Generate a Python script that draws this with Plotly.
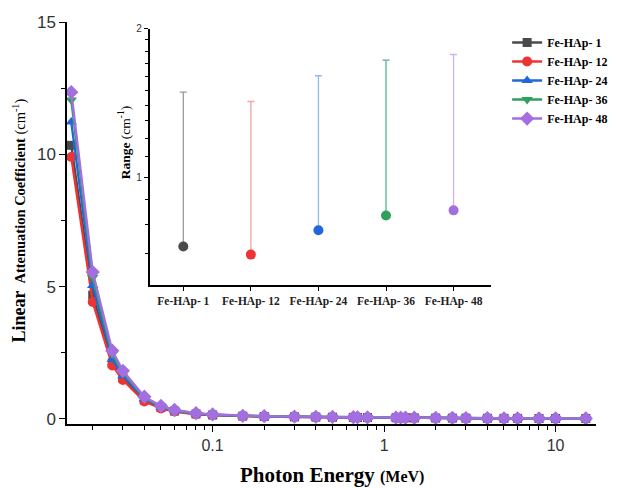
import plotly.graph_objects as go
import numpy as np

energy = [0.015, 0.02, 0.026, 0.03, 0.04, 0.05, 0.06, 0.08, 0.1, 0.15, 0.2, 0.3, 0.4, 0.5,
          0.662, 0.7, 0.8, 1.173, 1.25, 1.332, 1.5, 2, 2.5, 3, 4, 5, 6, 8, 10, 15]

mu_1 = [10.34, 4.68, 2.12, 1.55, 0.72, 0.43, 0.30, 0.19, 0.152, 0.108, 0.094, 0.081, 0.072, 0.066,
        0.059, 0.057, 0.054, 0.047, 0.045, 0.044, 0.041, 0.036, 0.032, 0.030, 0.026, 0.023, 0.021, 0.019, 0.018, 0.017]
mu_12 = [9.90, 4.42, 2.02, 1.47, 0.66, 0.40, 0.28, 0.18, 0.145, 0.103, 0.090, 0.077, 0.069, 0.063,
         0.056, 0.055, 0.052, 0.045, 0.043, 0.042, 0.039, 0.034, 0.031, 0.029, 0.025, 0.022, 0.020, 0.018, 0.017, 0.016]
mu_24 = [11.22, 5.04, 2.25, 1.63, 0.76, 0.45, 0.31, 0.20, 0.158, 0.112, 0.098, 0.084, 0.075, 0.069,
         0.061, 0.059, 0.056, 0.049, 0.047, 0.046, 0.043, 0.037, 0.034, 0.031, 0.027, 0.024, 0.022, 0.020, 0.019, 0.018]
mu_36 = [12.05, 5.35, 2.45, 1.74, 0.80, 0.47, 0.33, 0.21, 0.165, 0.117, 0.102, 0.088, 0.078, 0.072,
         0.064, 0.062, 0.058, 0.051, 0.049, 0.048, 0.045, 0.039, 0.035, 0.032, 0.028, 0.025, 0.023, 0.021, 0.020, 0.019]
mu_48 = [12.35, 5.55, 2.58, 1.82, 0.84, 0.49, 0.34, 0.22, 0.170, 0.120, 0.105, 0.090, 0.080, 0.074,
         0.066, 0.064, 0.060, 0.052, 0.050, 0.049, 0.046, 0.040, 0.036, 0.033, 0.029, 0.026, 0.024, 0.022, 0.021, 0.020]

samples = ["Fe-HAp- 1", "Fe-HAp- 12", "Fe-HAp- 24", "Fe-HAp- 36", "Fe-HAp- 48"]
range_low = [0.723, 0.696, 0.780, 0.836, 0.856]
range_high = [1.488, 1.424, 1.606, 1.728, 1.774]

colors = ["#4a4a4a", "#ee3333", "#2266dd", "#2f9f5e", "#a36ee0"]
bar_colors = ["#9a9a9a", "#f2a3a3", "#8fbdf0", "#55b484", "#cfb2f0"]
symbols = ["square", "circle", "triangle-up", "triangle-down", "diamond"]
msizes = [9, 10, 10, 10, 11]
series = [mu_1, mu_12, mu_24, mu_36, mu_48]

SERIF = "Liberation Serif"
SANS = "Liberation Sans"

fig = go.Figure()
for name, ys, c, s, ms in zip(samples, series, colors, symbols, msizes):
    fig.add_trace(go.Scatter(
        x=energy, y=ys, name=name, mode="lines+markers",
        line=dict(color=c, width=2.4),
        marker=dict(symbol=s, size=ms, color=c, line=dict(width=0)),
        xaxis="x", yaxis="y"))

for i, name in enumerate(samples):
    fig.add_trace(go.Scatter(
        x=[name], y=[range_low[i]], mode="markers", showlegend=False,
        marker=dict(symbol="circle", size=10, color=colors[i]),
        error_y=dict(type="data", symmetric=False,
                     array=[range_high[i] - range_low[i]], arrayminus=[0],
                     color=bar_colors[i], thickness=1.3, width=3.5),
        xaxis="x2", yaxis="y2"))

fig.update_layout(
    width=625, height=488,
    margin=dict(l=67, r=22, t=21.5, b=64),
    paper_bgcolor="white", plot_bgcolor="white",
    showlegend=True,
    legend=dict(x=0.832, y=0.985, xanchor="left", yanchor="top",
                font=dict(family=SERIF, size=12, color="black", weight="bold"),
                bgcolor="rgba(0,0,0,0)", borderwidth=0, itemwidth=30),
    xaxis=dict(type="log", range=[np.log10(0.01416), np.log10(17.2)],
               tickmode="array", tickvals=[0.1, 1, 10], ticktext=["0.1", "1", "10"],
               ticks="outside", ticklen=6, tickwidth=1.3, tickcolor="black",
               showline=True, linecolor="black", linewidth=1.5,
               showgrid=False, zeroline=False,
               tickfont=dict(family=SANS, size=16, color="#333333"),
               minor=dict(tickmode="array",
                          tickvals=[0.02, 0.03, 0.04, 0.05, 0.06, 0.07, 0.08, 0.09,
                                    0.2, 0.3, 0.4, 0.5, 0.6, 0.7, 0.8, 0.9,
                                    2, 3, 4, 5, 6, 7, 8, 9],
                          ticks="outside", ticklen=4, tickwidth=1.2, tickcolor="black",
                          showgrid=False)),
    yaxis=dict(range=[-0.19, 15], tickmode="array", tickvals=[0, 5, 10, 15],
               ticks="outside", ticklen=6, tickwidth=1.3, tickcolor="black",
               showline=True, linecolor="black", linewidth=1.5,
               showgrid=False, zeroline=False,
               tickfont=dict(family=SANS, size=17, color="#333333"),
               minor=dict(tickmode="array", tickvals=[2.5, 7.5, 12.5],
                          ticks="outside", ticklen=4, tickwidth=1.2, tickcolor="black",
                          showgrid=False)),
    xaxis2=dict(domain=[0.156, 0.801], anchor="y2", type="category",
                range=[-0.5, 4.55], ticks="outside", ticklen=4, tickwidth=1.2,
                tickcolor="black", showline=True, linecolor="black", linewidth=1.5,
                showgrid=False, zeroline=False,
                tickfont=dict(family=SERIF, size=11.5, color="#222222", weight="bold")),
    yaxis2=dict(domain=[0.345, 0.983], anchor="x2", type="log",
                range=[np.log10(0.603), np.log10(2.0)],
                tickmode="array", tickvals=[1, 2], ticktext=["1", "2"],
                ticks="outside", ticklen=4, tickwidth=1.2, tickcolor="black",
                showline=True, linecolor="black", linewidth=1.5,
                showgrid=False, zeroline=False,
                tickfont=dict(family=SANS, size=10, color="#333333"),
                minor=dict(tickmode="array",
                           tickvals=[0.7, 0.8, 0.9, 1.1, 1.2, 1.3, 1.4, 1.5, 1.6, 1.7, 1.8, 1.9],
                           ticks="outside", ticklen=3, tickwidth=1, tickcolor="black",
                           showgrid=False)),
)

fig.add_annotation(
    xref="paper", yref="paper", x=0.5, y=-0.127, xanchor="center", yanchor="middle",
    showarrow=False,
    text="<b><span style='font-size:21px'>Photon Energy </span><span style='font-size:16px'>(MeV)</span></b>",
    font=dict(family=SERIF, size=21, color="black"))

fig.add_annotation(
    xref="paper", yref="paper", x=-0.0915, y=0.505, xanchor="center", yanchor="middle",
    showarrow=False, textangle=-90,
    text="<b><span style='font-size:18px'>Linear </span> <span style='font-size:14.5px'>Attenuation Coefficient</span></b>"
         "<span style='font-size:14.5px'> (cm<sup>-1</sup>)</span>",
    font=dict(family=SERIF, size=14.5, color="black"))

fig.add_annotation(
    xref="paper", yref="paper", x=0.108, y=0.701, xanchor="center", yanchor="middle",
    showarrow=False, textangle=-90,
    text="<b>Range</b> (cm<sup>-1</sup>)",
    font=dict(family=SERIF, size=13.5, color="black"))

fig.write_html("out.html")
